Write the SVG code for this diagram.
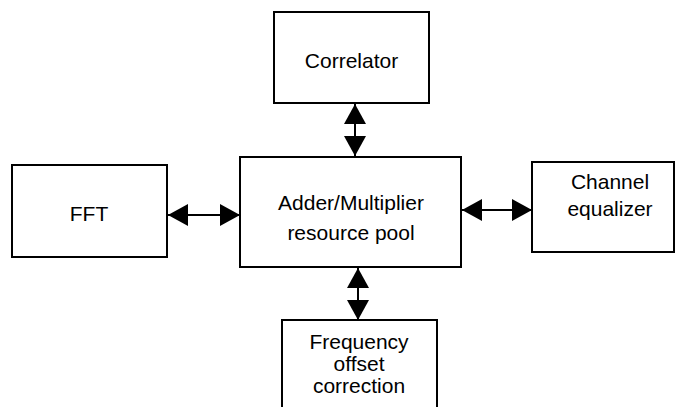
<svg xmlns="http://www.w3.org/2000/svg" width="675" height="407" viewBox="0 0 675 407">
  <style>
    .box { fill: #ffffff; stroke: #000000; stroke-width: 2; }
    .lbl { font-family: "Liberation Sans", Arial, sans-serif; font-size: 21px; fill: #000000; text-anchor: middle; }
    .link { stroke: #000000; stroke-width: 2; fill: none; marker-start: url(#head); marker-end: url(#head); }
  </style>
  <defs>
    <!-- solid triangular head, used at both ends of every link -->
    <marker id="head" viewBox="0 0 20 22" refX="20" refY="11" markerWidth="20" markerHeight="22" markerUnits="userSpaceOnUse" orient="auto-start-reverse">
      <path d="M0,0 L20,11 L0,22 Z" fill="#000000"/>
    </marker>
  </defs>
  <rect width="675" height="407" fill="#ffffff"/>

  <g id="connectors">
    <line class="link" x1="355" y1="104" x2="355" y2="156"/>
    <line class="link" x1="168" y1="215" x2="240" y2="215"/>
    <line class="link" x1="462" y1="210" x2="532" y2="210"/>
    <line class="link" x1="358" y1="268" x2="358" y2="320"/>
  </g>

  <g id="correlator">
    <rect class="box" x="274" y="12" width="155" height="91"/>
    <text class="lbl" x="351.5" y="68">Correlator</text>
  </g>

  <g id="pool">
    <rect class="box" x="240" y="157" width="221" height="110"/>
    <text class="lbl" x="351" y="210">Adder/Multiplier</text>
    <text class="lbl" x="351" y="240">resource pool</text>
  </g>

  <g id="fft">
    <rect class="box" x="12" y="165" width="155" height="92"/>
    <text class="lbl" x="89" y="221">FFT</text>
  </g>

  <g id="equalizer">
    <rect class="box" x="532" y="162" width="142" height="90"/>
    <text class="lbl" x="610" y="189">Channel</text>
    <text class="lbl" x="610" y="216">equalizer</text>
  </g>

  <g id="frequency">
    <rect class="box" x="282" y="320" width="155" height="100"/>
    <text class="lbl" x="359" y="349">Frequency</text>
    <text class="lbl" x="359" y="371">offset</text>
    <text class="lbl" x="359" y="393">correction</text>
  </g>
</svg>
